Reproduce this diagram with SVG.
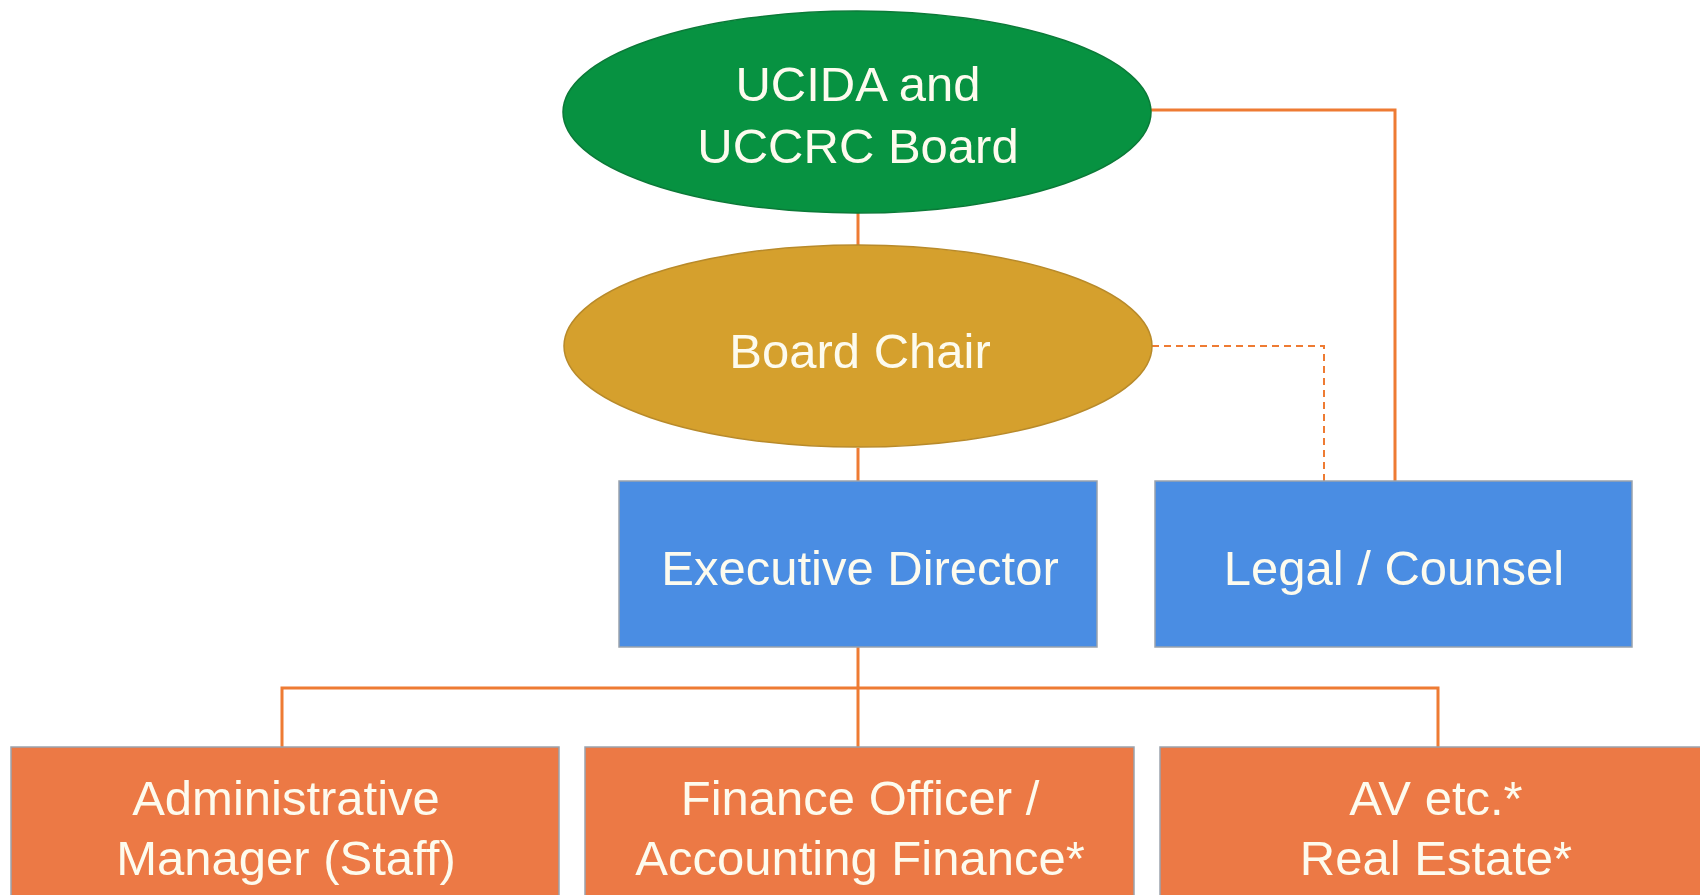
<svg xmlns="http://www.w3.org/2000/svg" width="1700" height="895" viewBox="0 0 1700 895">
<style>
.t{font-family:"Liberation Sans",Arial,sans-serif;fill:#fdfbee;text-anchor:middle}
.big{font-size:49px}
.c{stroke:#ee7b33;stroke-width:3;fill:none}
.d{stroke:#ee7b33;stroke-width:2;fill:none;stroke-dasharray:7 5}
.box{stroke:#9aa3ad;stroke-width:1.5}
</style>
<rect width="1700" height="895" fill="#ffffff"/>
<g id="connectors">
<line class="c" x1="858" y1="212" x2="858" y2="246"/>
<line class="c" x1="858" y1="448" x2="858" y2="482"/>
<polyline class="c" points="1151,110 1395,110 1395,482"/>
<polyline class="d" points="1152,346 1324,346 1324,482"/>
<line class="c" x1="858" y1="647" x2="858" y2="748"/>
<polyline class="c" points="282,748 282,688 1438,688 1438,748"/>
</g>
<g id="board">
<ellipse cx="857" cy="112" rx="294" ry="101" fill="#079241" stroke="#0b7a38" stroke-width="1.5"/>
<text class="t big" x="858" y="101">UCIDA and</text>
<text class="t big" x="858" y="163">UCCRC Board</text>
</g>
<g id="chair">
<ellipse cx="858" cy="346" rx="294" ry="101" fill="#d5a02d" stroke="#b88a2a" stroke-width="1.5"/>
<text class="t big" x="860" y="368">Board Chair</text>
</g>
<g id="exec">
<rect class="box" x="619" y="481" width="478" height="166" fill="#4a8de3"/>
<text class="t big" x="860" y="585">Executive Director</text>
</g>
<g id="legal">
<rect class="box" x="1155" y="481" width="477" height="166" fill="#4a8de3"/>
<text class="t big" x="1394" y="585">Legal / Counsel</text>
</g>
<g id="admin">
<rect class="box" x="11" y="747" width="548" height="160" fill="#ec7945"/>
<text class="t big" x="286" y="815">Administrative</text>
<text class="t big" x="286" y="875">Manager (Staff)</text>
</g>
<g id="finance">
<rect class="box" x="585" y="747" width="549" height="160" fill="#ec7945"/>
<text class="t big" x="860" y="815">Finance Officer /</text>
<text class="t big" x="860" y="875">Accounting Finance*</text>
</g>
<g id="av">
<rect class="box" x="1160" y="747" width="560" height="160" fill="#ec7945"/>
<text class="t big" x="1436" y="815">AV etc.*</text>
<text class="t big" x="1436" y="875">Real Estate*</text>
</g>
</svg>
